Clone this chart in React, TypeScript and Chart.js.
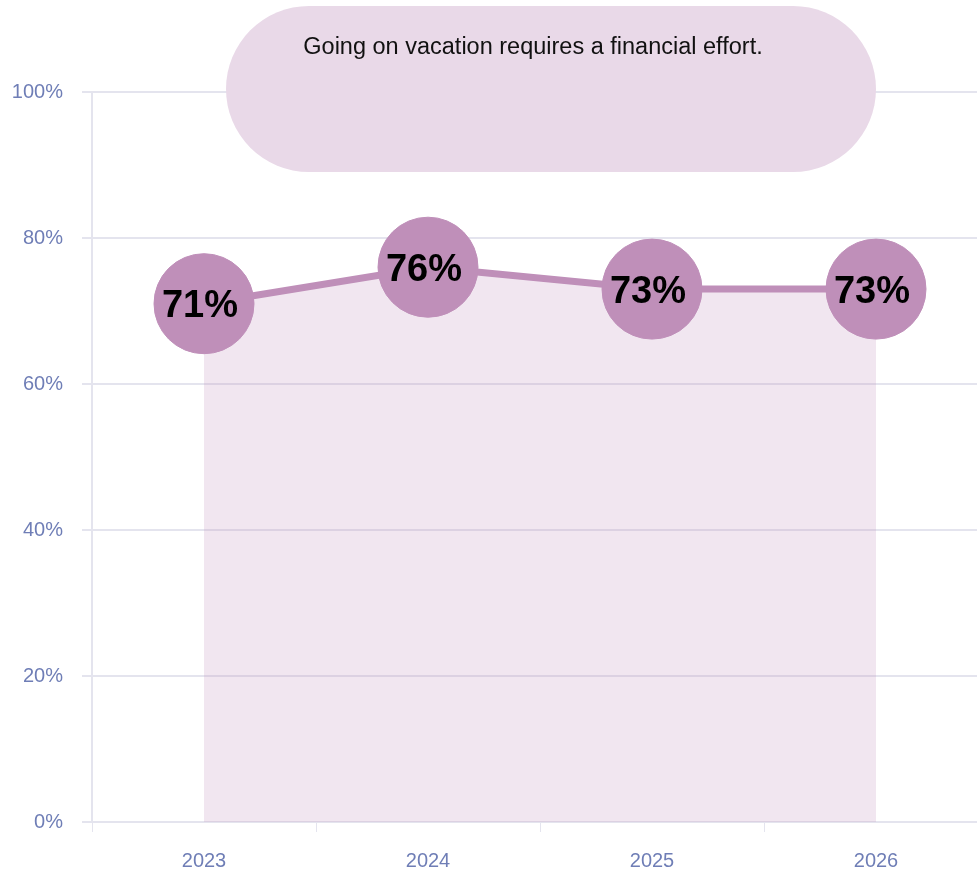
import React, { useEffect, useRef } from "react";
import { Chart, registerables } from "chart.js";

Chart.register(...registerables);

const categories = ["2023", "2024", "2025", "2026"];
const shareValues = [71, 76, 73, 73];
const yTicks = [0, 20, 40, 60, 80, 100];
const calloutText = "Going on vacation requires a financial effort.";

const LINE_COLOR = "#bf8fb9";
const FILL_COLOR = "rgba(191,143,185,0.22)";
const PILL_COLOR = "#e9d9e8";
const GRID_COLOR = "#e4e4ee";
const TICK_COLOR = "#6f7eb6";
const FONT = "'Liberation Sans', Arial, sans-serif";

const overlayPlugin = {
  id: "overlay",
  afterDatasetsDraw(chart: any) {
    const ctx = chart.ctx;
    const meta = chart.getDatasetMeta(0);
    ctx.save();
    ctx.fillStyle = "#000";
    ctx.font = `bold 38px ${FONT}`;
    ctx.textAlign = "center";
    ctx.textBaseline = "middle";
    meta.data.forEach((pt: any, i: number) => {
      ctx.fillText(`${shareValues[i]}%`, pt.x - 4, pt.y + 3);
    });
    ctx.restore();
  },
  afterDraw(chart: any) {
    const ctx = chart.ctx;
    const left = 226;
    const right = 876;
    const top = 6;
    const bottom = 172;
    const r = (bottom - top) / 2;
    ctx.save();
    ctx.fillStyle = PILL_COLOR;
    ctx.beginPath();
    ctx.moveTo(left + r, top);
    ctx.lineTo(right - r, top);
    ctx.arc(right - r, top + r, r, -Math.PI / 2, Math.PI / 2);
    ctx.lineTo(left + r, bottom);
    ctx.arc(left + r, top + r, r, Math.PI / 2, (3 * Math.PI) / 2);
    ctx.closePath();
    ctx.fill();
    ctx.fillStyle = "#111";
    ctx.font = `23.5px ${FONT}`;
    ctx.textAlign = "center";
    ctx.textBaseline = "middle";
    ctx.fillText(calloutText, 533, 48);
    ctx.restore();
  },
};

export default function App() {
  const ref = useRef<HTMLCanvasElement | null>(null);

  useEffect(() => {
    if (!ref.current) return;
    const chart = new Chart(ref.current, {
      type: "line",
      data: {
        labels: categories,
        datasets: [
          {
            data: shareValues,
            borderColor: LINE_COLOR,
            borderWidth: 7,
            backgroundColor: FILL_COLOR,
            fill: "origin",
            pointRadius: 50,
            pointBorderWidth: 1,
            pointBackgroundColor: LINE_COLOR,
            pointBorderColor: LINE_COLOR,
            tension: 0,
            clip: false as any,
          },
        ],
      },
      options: {
        animation: false,
        responsive: true,
        maintainAspectRatio: false,
        layout: { autoPadding: false, padding: { top: 92, right: 12, left: 0, bottom: 0 } },
        plugins: {
          legend: { display: false },
          tooltip: { enabled: false },
          title: { display: false },
        },
        scales: {
          x: {
            type: "category",
            offset: true,
            grid: {
              display: true,
              drawOnChartArea: false,
              drawTicks: true,
              tickLength: 10,
              color: GRID_COLOR,
              offset: true,
            },
            border: { display: true, color: GRID_COLOR, width: 2 },
            ticks: {
              color: TICK_COLOR,
              font: { family: FONT, size: 20 },
              padding: 17,
            },
            afterFit: (scale: any) => {
              scale.height = 50;
              scale.paddingLeft = 0;
              scale.paddingRight = 0;
            },
          },
          y: {
            min: 0,
            max: 100,
            afterBuildTicks: (scale: any) => {
              scale.ticks = yTicks.map((v) => ({ value: v }));
            },
            grid: {
              color: GRID_COLOR,
              lineWidth: 2,
              tickLength: 10,
              drawTicks: true,
            },
            border: { display: true, color: GRID_COLOR, width: 2 },
            ticks: {
              color: TICK_COLOR,
              font: { family: FONT, size: 20 },
              padding: 19,
              callback: (v: any) => `${v}%`,
            },
            afterFit: (scale: any) => {
              scale.width = 92;
              scale.paddingTop = 0;
              scale.paddingBottom = 0;
            },
          },
        },
      },
      plugins: [overlayPlugin],
    });
    return () => chart.destroy();
  }, []);

  return (
    <div
      style={{
        position: "absolute",
        left: 0,
        top: 0,
        width: 977,
        height: 872,
        overflow: "hidden",
        background: "#fff",
      }}
    >
      <div style={{ position: "relative", width: 1000, height: 872 }}>
        <canvas ref={ref} />
      </div>
    </div>
  );
}
